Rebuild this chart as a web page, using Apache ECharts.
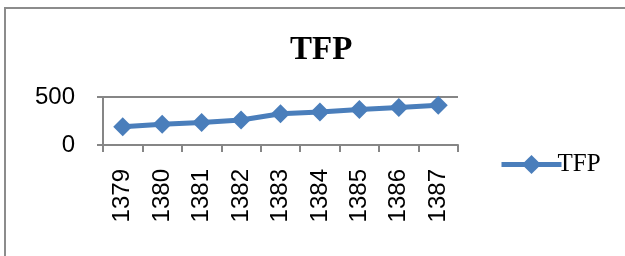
<!DOCTYPE html>
<html>
<head>
<meta charset="utf-8">
<script src="https://cdn.jsdelivr.net/npm/echarts@6/dist/echarts.min.js"></script>
<style>
  html, body { margin: 0; padding: 0; background: #fff; }
  #chart { width: 625px; height: 256px; }
</style>
</head>
<body>
<div id="chart"></div>
<script>
// 数据
const years = ['1379', '1380', '1381', '1382', '1383', '1384', '1385', '1386', '1387']
const tfpValues = [190, 215, 235, 260, 325, 345, 370, 390, 415]
const yTicks = [0, 500]

const lineColor = '#4a7ebb'
const axisColor = '#868686'

const chart = echarts.init(document.getElementById('chart'))

const option = {
  animation: false,
  title: {
    text: 'TFP',
    left: 285,
    top: 29,
    textStyle: {
      fontFamily: 'Liberation Serif',
      fontWeight: 'bold',
      fontSize: 33,
      color: '#000'
    }
  },
  graphic: [
    {
      type: 'rect',
      shape: { x: 5, y: 8, width: 700, height: 300 },
      style: { fill: 'none', stroke: '#8c8c8c', lineWidth: 2 },
      silent: true
    }
  ],
  legend: {
    left: 494,
    top: 147,
    itemWidth: 60,
    itemHeight: 24,
    itemGap: 0,
    lineStyle: { width: 5 },
    textStyle: {
      fontFamily: 'Liberation Serif',
      fontSize: 25,
      color: '#000',
      padding: [0, 0, 0, -9]
    },
    data: ['TFP']
  },
  grid: {
    left: 103,
    right: 167,
    top: 97,
    bottom: 111
  },
  xAxis: {
    type: 'category',
    data: years,
    boundaryGap: true,
    axisLine: { lineStyle: { color: axisColor, width: 2 } },
    axisTick: { show: true, length: 7, lineStyle: { color: axisColor, width: 2 } },
    axisLabel: {
      rotate: 90,
      margin: 24,
      fontFamily: 'Liberation Sans',
      fontSize: 24,
      color: '#000'
    },
    splitLine: { show: false }
  },
  yAxis: {
    type: 'value',
    min: yTicks[0],
    max: yTicks[1],
    interval: 500,
    axisLine: { show: true, lineStyle: { color: axisColor, width: 2 } },
    axisTick: { show: true, length: 6, lineStyle: { color: axisColor, width: 2 } },
    axisLabel: {
      margin: 28,
      fontFamily: 'Liberation Sans',
      fontSize: 24,
      color: '#000'
    },
    splitLine: { show: true, lineStyle: { color: axisColor, width: 2 } }
  },
  series: [
    {
      name: 'TFP',
      type: 'line',
      data: tfpValues,
      symbol: 'diamond',
      symbolSize: 19,
      lineStyle: { color: lineColor, width: 5 },
      itemStyle: { color: lineColor }
    }
  ]
}

chart.setOption(option)
</script>
</body>
</html>
